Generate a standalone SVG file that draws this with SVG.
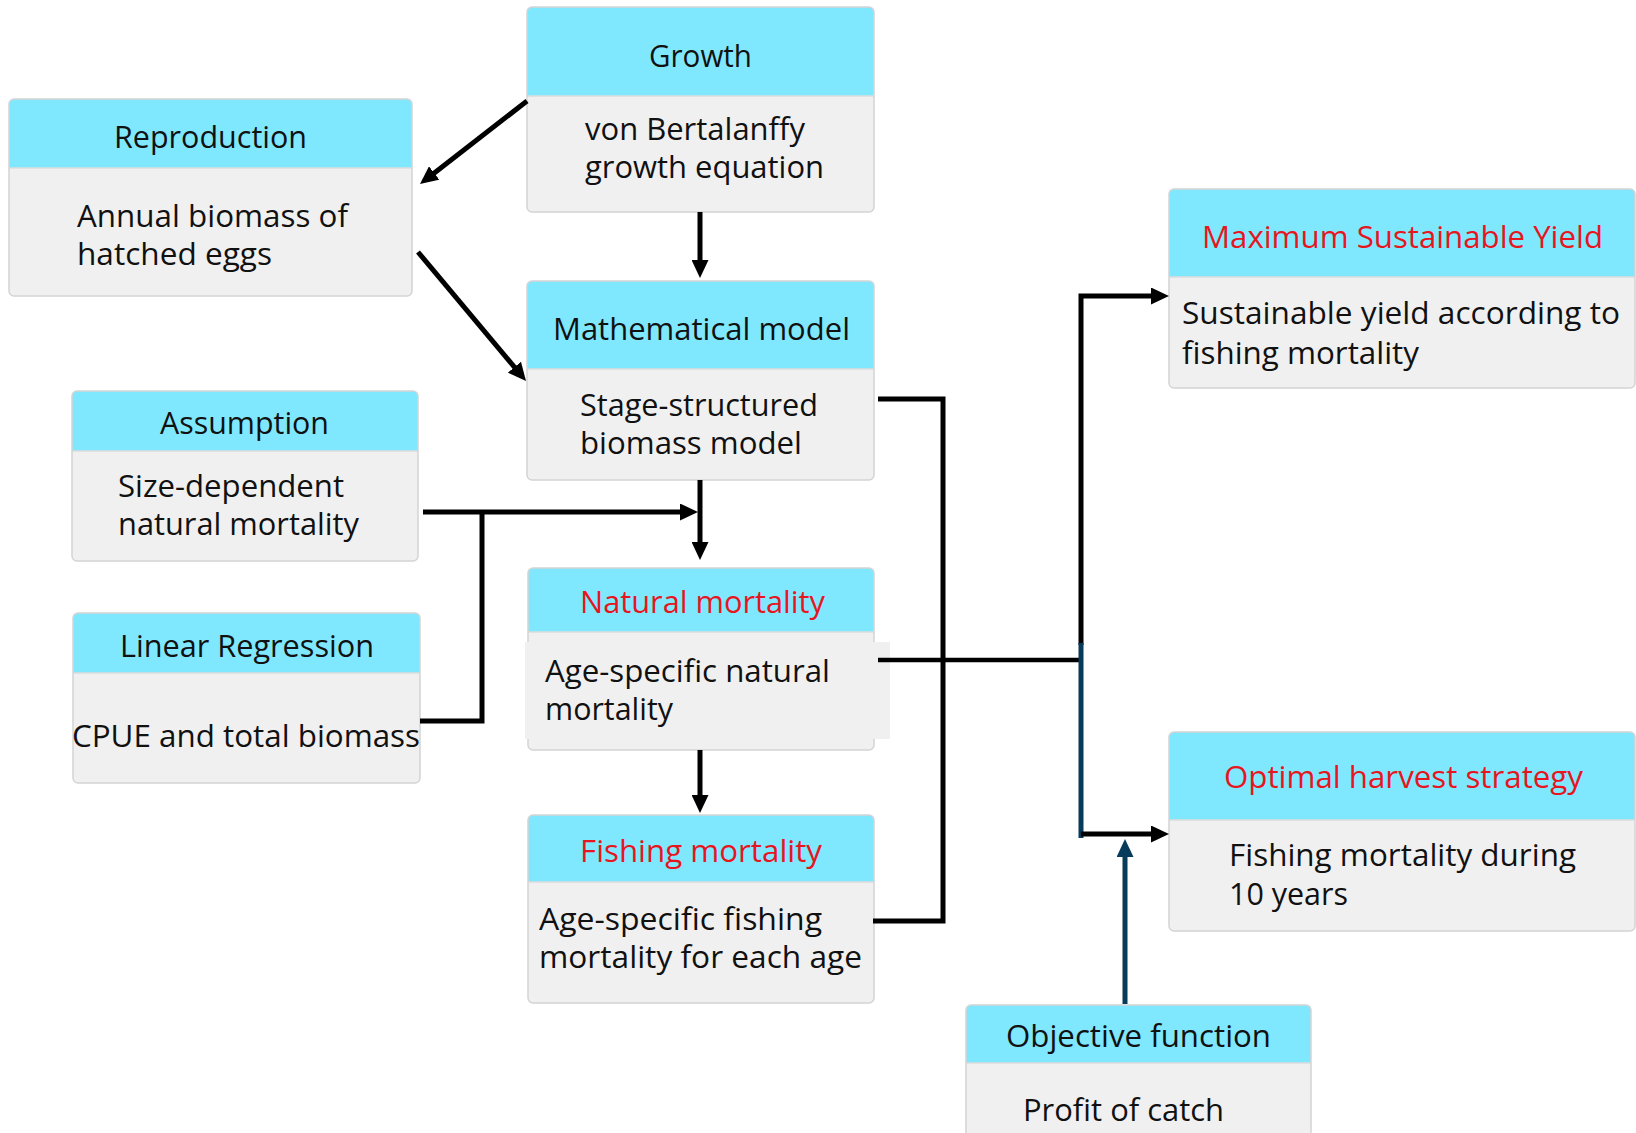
<svg xmlns="http://www.w3.org/2000/svg" width="1636" height="1133" viewBox="0 0 1636 1133">
<style>
.body{fill:#f0f0f0}
.hdr{fill:#80e8fe}
.edge{fill:none;stroke:#d4d4d4;stroke-width:1.5}
.sep{stroke:#dcdcdc;stroke-width:1.5}
text{font-family:"Open Sans","Noto Sans","Liberation Sans",sans-serif;font-size:31px;fill:#111}
text.red{fill:#e5161e}
.blk{fill:none;stroke:#000;stroke-width:5}
.blu{fill:none;stroke:#073b5b;stroke-width:5}
</style>
<defs>
<marker id="ab" markerUnits="userSpaceOnUse" markerWidth="18" markerHeight="17" refX="8" refY="8.5" orient="auto" viewBox="0 0 18 17"><path d="M0,0 L18,8.5 L0,17 z" fill="#000"/></marker>
<marker id="au" markerUnits="userSpaceOnUse" markerWidth="18" markerHeight="17" refX="8" refY="8.5" orient="auto" viewBox="0 0 18 17"><path d="M0,0 L18,8.5 L0,17 z" fill="#073b5b"/></marker>
</defs>
<rect width="1636" height="1133" fill="#fff"/>

<g id="growth">
<rect class="body" x="527" y="7" width="347" height="205" rx="5"/>
<path class="hdr" d="M527,96 V12 Q527,7 532,7 H869 Q874,7 874,12 V96 Z"/>
<line class="sep" x1="527" y1="96" x2="874" y2="96"/>
<rect class="edge" x="527" y="7" width="347" height="205" rx="5"/>
<text x="649" y="67" textLength="103" lengthAdjust="spacingAndGlyphs">Growth</text>
<text x="585" y="140" textLength="220" lengthAdjust="spacingAndGlyphs">von Bertalanffy</text>
<text x="585" y="178" textLength="239" lengthAdjust="spacingAndGlyphs">growth equation</text>
</g>

<g id="reproduction">
<rect class="body" x="9" y="99" width="403" height="197" rx="5"/>
<path class="hdr" d="M9,168 V104 Q9,99 14,99 H407 Q412,99 412,104 V168 Z"/>
<line class="sep" x1="9" y1="168" x2="412" y2="168"/>
<rect class="edge" x="9" y="99" width="403" height="197" rx="5"/>
<text x="114" y="148" textLength="193" lengthAdjust="spacingAndGlyphs">Reproduction</text>
<text x="77" y="226.5" textLength="271" lengthAdjust="spacingAndGlyphs">Annual biomass of</text>
<text x="77" y="264.5" textLength="195" lengthAdjust="spacingAndGlyphs">hatched eggs</text>
</g>

<g id="math-model">
<rect class="body" x="527" y="281" width="347" height="199" rx="5"/>
<path class="hdr" d="M527,369 V286 Q527,281 532,281 H869 Q874,281 874,286 V369 Z"/>
<line class="sep" x1="527" y1="369" x2="874" y2="369"/>
<rect class="edge" x="527" y="281" width="347" height="199" rx="5"/>
<text x="553" y="340" textLength="297" lengthAdjust="spacingAndGlyphs">Mathematical model</text>
<text x="580" y="416" textLength="238" lengthAdjust="spacingAndGlyphs">Stage-structured</text>
<text x="580" y="454" textLength="222" lengthAdjust="spacingAndGlyphs">biomass model</text>
</g>

<g id="assumption">
<rect class="body" x="72" y="391" width="346" height="170" rx="5"/>
<path class="hdr" d="M72,451 V396 Q72,391 77,391 H413 Q418,391 418,396 V451 Z"/>
<line class="sep" x1="72" y1="451" x2="418" y2="451"/>
<rect class="edge" x="72" y="391" width="346" height="170" rx="5"/>
<text x="160" y="434" textLength="169" lengthAdjust="spacingAndGlyphs">Assumption</text>
<text x="118" y="496.5" textLength="226" lengthAdjust="spacingAndGlyphs">Size-dependent</text>
<text x="118" y="534.5" textLength="241" lengthAdjust="spacingAndGlyphs">natural mortality</text>
</g>

<g id="linear-regression">
<rect class="body" x="73" y="613" width="347" height="170" rx="5"/>
<path class="hdr" d="M73,673 V618 Q73,613 78,613 H415 Q420,613 420,618 V673 Z"/>
<line class="sep" x1="73" y1="673" x2="420" y2="673"/>
<rect class="edge" x="73" y="613" width="347" height="170" rx="5"/>
<text x="120" y="657" textLength="254" lengthAdjust="spacingAndGlyphs">Linear Regression</text>
<text x="72" y="747" textLength="348" lengthAdjust="spacingAndGlyphs">CPUE and total biomass</text>
</g>

<g id="natural-mortality">
<rect class="body" x="528" y="568" width="346" height="182" rx="5"/>
<path class="hdr" d="M528,632 V573 Q528,568 533,568 H869 Q874,568 874,573 V632 Z"/>
<line class="sep" x1="528" y1="632" x2="874" y2="632"/>
<rect class="edge" x="528" y="568" width="346" height="182" rx="5"/>
<rect class="body" x="525" y="642" width="365" height="97"/>
<text class="red" x="580" y="613" textLength="245" lengthAdjust="spacingAndGlyphs">Natural mortality</text>
<text x="545" y="682" textLength="285" lengthAdjust="spacingAndGlyphs">Age-specific natural</text>
<text x="545" y="720" textLength="128" lengthAdjust="spacingAndGlyphs">mortality</text>
</g>

<g id="fishing-mortality">
<rect class="body" x="528" y="815" width="346" height="188" rx="5"/>
<path class="hdr" d="M528,882 V820 Q528,815 533,815 H869 Q874,815 874,820 V882 Z"/>
<line class="sep" x1="528" y1="882" x2="874" y2="882"/>
<rect class="edge" x="528" y="815" width="346" height="188" rx="5"/>
<text class="red" x="580" y="862" textLength="242" lengthAdjust="spacingAndGlyphs">Fishing mortality</text>
<text x="539" y="930" textLength="283" lengthAdjust="spacingAndGlyphs">Age-specific fishing</text>
<text x="539" y="968" textLength="323" lengthAdjust="spacingAndGlyphs">mortality for each age</text>
</g>

<g id="msy">
<rect class="body" x="1169" y="189" width="466" height="199" rx="5"/>
<path class="hdr" d="M1169,277 V194 Q1169,189 1174,189 H1630 Q1635,189 1635,194 V277 Z"/>
<line class="sep" x1="1169" y1="277" x2="1635" y2="277"/>
<rect class="edge" x="1169" y="189" width="466" height="199" rx="5"/>
<text class="red" x="1202" y="248" textLength="401" lengthAdjust="spacingAndGlyphs">Maximum Sustainable Yield</text>
<text x="1182" y="324" textLength="438" lengthAdjust="spacingAndGlyphs">Sustainable yield according to</text>
<text x="1182" y="364" textLength="237" lengthAdjust="spacingAndGlyphs">fishing mortality</text>
</g>

<g id="optimal-harvest">
<rect class="body" x="1169" y="732" width="466" height="199" rx="5"/>
<path class="hdr" d="M1169,820 V737 Q1169,732 1174,732 H1630 Q1635,732 1635,737 V820 Z"/>
<line class="sep" x1="1169" y1="820" x2="1635" y2="820"/>
<rect class="edge" x="1169" y="732" width="466" height="199" rx="5"/>
<text class="red" x="1224" y="788" textLength="359" lengthAdjust="spacingAndGlyphs">Optimal harvest strategy</text>
<text x="1229" y="866" textLength="347" lengthAdjust="spacingAndGlyphs">Fishing mortality during</text>
<text x="1229" y="905" textLength="119" lengthAdjust="spacingAndGlyphs">10 years</text>
</g>

<g id="objective-function">
<rect class="body" x="966" y="1005" width="345" height="140" rx="5"/>
<path class="hdr" d="M966,1063 V1010 Q966,1005 971,1005 H1306 Q1311,1005 1311,1010 V1063 Z"/>
<line class="sep" x1="966" y1="1063" x2="1311" y2="1063"/>
<rect class="edge" x="966" y="1005" width="345" height="140" rx="5"/>
<text x="1006" y="1047" textLength="265" lengthAdjust="spacingAndGlyphs">Objective function</text>
<text x="1023" y="1121" textLength="201" lengthAdjust="spacingAndGlyphs">Profit of catch</text>
</g>

<g id="connectors">
<line class="blk" x1="527" y1="101" x2="427.9" y2="177.9" marker-end="url(#ab)"/>
<line class="blk" x1="418" y1="252" x2="519.6" y2="373.3" marker-end="url(#ab)"/>
<line class="blk" x1="700" y1="212" x2="700" y2="268" marker-end="url(#ab)"/>
<line class="blk" x1="700" y1="480" x2="700" y2="550" marker-end="url(#ab)"/>
<line class="blk" x1="423" y1="512" x2="688" y2="512" marker-end="url(#ab)"/>
<polyline class="blk" points="420,721 482,721 482,512"/>
<line class="blk" x1="700" y1="750" x2="700" y2="803" marker-end="url(#ab)"/>
<polyline class="blk" points="878,399 943,399 943,921 873,921"/>
<line class="blk" x1="878" y1="660" x2="1081" y2="660" style="stroke-width:4.5"/>
<path class="blk" d="M1081,645 V296 H1159" marker-end="url(#ab)"/>
<line class="blu" x1="1081" y1="643" x2="1081" y2="838"/>
<line class="blk" x1="1081" y1="834" x2="1159" y2="834" marker-end="url(#ab)"/>
<line class="blu" x1="1125" y1="1004" x2="1125" y2="849" marker-end="url(#au)"/>
</g>
</svg>
